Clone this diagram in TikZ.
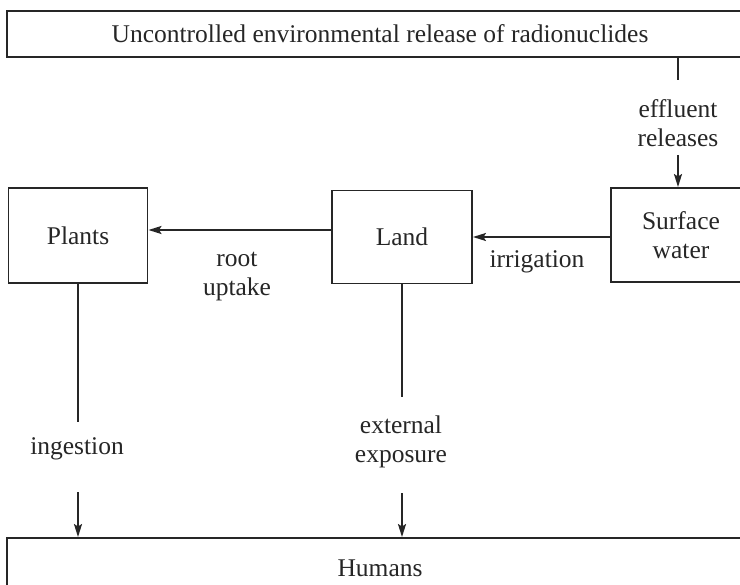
\documentclass[tikz,border=0pt]{standalone}
\usepackage{fontspec}
\setmainfont{Liberation Serif}
\usetikzlibrary{arrows.meta,positioning}

\begin{document}
\begin{tikzpicture}[
    x=1pt, y=-1pt,
    box/.style={
        rectangle,
        draw=black!85,
        line width=1.9pt,
        minimum width=#1,
        align=center,
        text=black!85,
        font=\fontsize{25.5}{29}\selectfont
    },
    link/.style={
        draw=black!85,
        line width=1.9pt
    },
    arrow/.style={
        link,
        -{Stealth[length=13pt,width=8pt,inset=2.5pt]}
    },
    pathlabel/.style={
        font=\fontsize{25.5}{29}\selectfont,
        text=black!85,
        align=center,
        inner sep=0pt
    }
]

\useasboundingbox (0,0) rectangle (740,585);
\clip (0,0) rectangle (740,585);

% Boxes
\node[box=746, minimum height=46] (release) at (380,34)
    {Uncontrolled environmental release of radionuclides};
\node[box=140, minimum height=94] (surface) at (681,235) {Surface\\water};
\node[box=140, minimum height=93] (land) at (402,237) {Land};
\node[box=139, minimum height=95] (plants) at (78,235.5) {Plants};
\node[box=746, minimum height=60] (humans) at (380,568) {Humans};

% Pathway labels
\node[pathlabel] (effl) at (678,123) {effluent\\releases};
\node[pathlabel] (uptake) at (237,277) {root\\uptake};
\node[pathlabel] (irrig) at (537,262) {irrigation};
\node[pathlabel] (ingest) at (77,449) {ingestion};
\node[pathlabel] (expo) at (401,442) {external\\exposure};

% Release -> surface water
\draw[link, shorten >=19pt] (release.south -| effl) -- (effl.north);
\draw[arrow, shorten <=8pt] (effl.south) -- (surface.north -| effl);

% Surface water -> land -> plants
\draw[arrow] (surface.west |- land.east) -- (land.east);
\draw[arrow] ([yshift=7pt]land.west) -- ([yshift=7pt]land.west -| plants.east);

% Plants -> humans
\draw[link, shorten >=15.5pt] (plants.south) -- (plants.south |- ingest.north);
\draw[arrow, shorten <=32pt] (plants.south |- ingest.south) -- (plants.south |- humans.north);

% Land -> humans
\draw[link, shorten >=19pt] (land.south) -- (land.south |- expo.north);
\draw[arrow, shorten <=25pt] (land.south |- expo.south) -- (land.south |- humans.north);

\end{tikzpicture}
\end{document}
